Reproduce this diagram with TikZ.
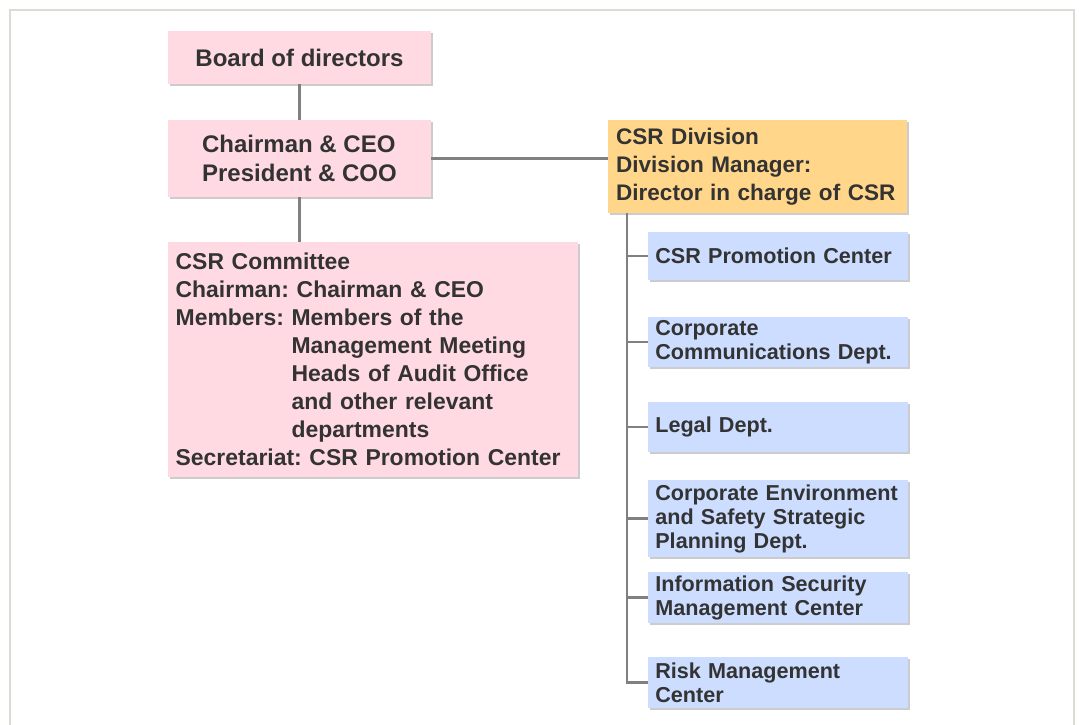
\documentclass[tikz,border=0pt]{standalone}
\usepackage{fontspec}
\setmainfont{Liberation Sans}
\usetikzlibrary{shadows}
\frenchspacing

\begin{document}
\begin{tikzpicture}[x=0.75pt,y=-0.75pt,
  box/.style={inner ysep=0pt,text={rgb,255:red,51;green,51;blue,51},
    font=\bfseries\fontsize{16.9}{21}\selectfont,
    drop shadow={shadow xshift=1.6pt,shadow yshift=-1.6pt,opacity=0.4}},
  pinkbox/.style={box,fill={rgb,255:red,255;green,218;blue,226}},
  divbox/.style={box,fill={rgb,255:red,255;green,214;blue,138}},
  deptbox/.style={box,fill={rgb,255:red,204;green,221;blue,255},
    minimum width=195pt,inner xsep=5.5pt,text width=184pt,align=left,
    font=\bfseries\fontsize{16.2}{18}\selectfont},
  link/.style={draw={rgb,255:red,128;green,128;blue,128},line width=2pt}]%
\useasboundingbox (0,0) rectangle (1079,725);%
% outer frame
\draw[line width=1.5pt,draw={rgb,255:red,220;green,220;blue,212}] (10,725) -- (10,10) -- (1074,10) -- (1074,725);%
% left column
\node[pinkbox,minimum width=197.25pt,minimum height=39.75pt,font=\bfseries\fontsize{18}{22}\selectfont] (board) at (299.5,57.5) {Board of directors};%
\node[pinkbox,minimum width=197.25pt,minimum height=57.75pt,align=left,font=\bfseries\fontsize{18}{21.75}\selectfont] (chair) at (299.5,158.5) {Chairman \& CEO\\President \& COO};%
\node[pinkbox,minimum width=307.5pt,minimum height=176.25pt,inner xsep=5.75pt,text width=296pt,align=left,font=\bfseries\fontsize{17.2}{21}\selectfont] (committee) at (373,359.5) {CSR Committee\\Chairman: Chairman \& CEO\\Members: Members of the\\\phantom{Members:} Management Meeting\\\phantom{Members:} Heads of Audit Office\\\phantom{Members:} and other relevant\\\phantom{Members:} departments\\Secretariat: CSR Promotion Center};%
% CSR division
\node[divbox,minimum width=224.25pt,minimum height=69.75pt,inner xsep=6pt,text width=212pt,align=left] (division) at (757.5,166.5) {CSR Division\\Division Manager:\\Director in charge of CSR};%
% departments
\node[deptbox,minimum height=36pt] (promo) at (778,256) {CSR Promotion Center};%
\node[deptbox,minimum height=37.5pt] (comm) at (778,342) {Corporate\\Communications Dept.};%
\node[deptbox,minimum height=37.5pt] (legal) at (778,427) {Legal Dept.};%
\node[deptbox,minimum height=57.75pt] (env) at (778,518.5) {Corporate Environment\\and Safety Strategic\\Planning Dept.};%
\node[deptbox,minimum height=38.25pt] (infosec) at (778,597.5) {Information Security\\Management Center};%
\node[deptbox,minimum height=38.25pt] (risk) at (778,682.5) {Risk Management\\Center};%
% connectors
\draw[link] (board.south) -- (chair.north);%
\draw[link] (chair.south) -- (chair.south |- committee.north);%
\draw[link] (chair.east) -- (chair.east -| division.west);%
\coordinate (trunk) at (627,213);%
\draw[link] (trunk) |- (risk.west);%
\foreach \d in {promo,comm,legal,env,infosec}
  \draw[link] (\d.west -| trunk) -- (\d.west);%
\end{tikzpicture}
\end{document}
